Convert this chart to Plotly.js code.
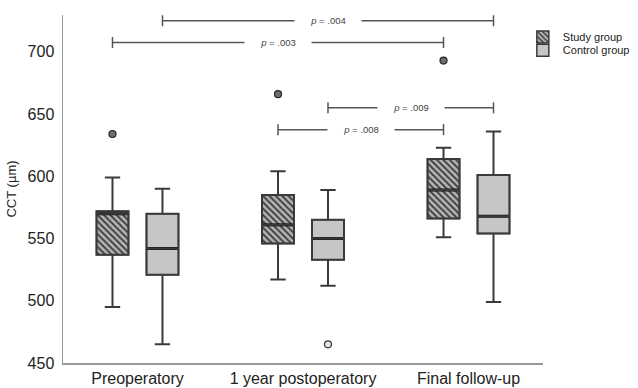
<!DOCTYPE html>
<html><head><meta charset="utf-8">
<script src="https://cdn.plot.ly/plotly-3.0.1.min.js"></script>
<style>html,body{margin:0;padding:0;background:#fff}</style>
</head><body><div id="chart" style="width:638px;height:388px"></div>
<script>
// ---- data ----
const categories = ['Preoperatory', '1 year postoperatory', 'Final follow-up'];

const studyLowerFence = [495, 517, 551];
const studyQ1         = [537, 546, 566];
const studyMedian     = [570, 561, 589];
const studyQ3         = [572, 585, 614];
const studyUpperFence = [599, 604, 623];
const studyOutliers   = [[634], [666], [693]];

const controlLowerFence = [465, 512, 499];
const controlQ1         = [521, 533, 554];
const controlMedian     = [542, 550, 568];
const controlQ3         = [570, 565, 601];
const controlUpperFence = [590, 589, 636];
const controlOutliers   = [[], [465], []];

// pairwise comparisons (category index, group) -> (category index, group)
const compCatA   = [0, 0, 1, 1];
const compGroupA = ['control', 'study', 'control', 'study'];
const compCatB   = [2, 2, 2, 2];
const compGroupB = ['control', 'study', 'control', 'study'];
const compP      = ['.004', '.003', '.009', '.008'];
const compLevel  = [725, 707.5, 655, 637.5];

// ---- layout params ----
const BOXGAP = 0.396, BOXGROUPGAP = 0.36;
const slotOff = 0.25 * (1 - BOXGAP);                       // centre offset of each group's box
const halfW = 0.5 * (1 - BOXGAP) * (1 - BOXGROUPGAP) / 2;  // half box width
const groupOffset = g => (g === 'study' ? -slotOff : slotOff);
const MED_T = 2.4; // thickness of the median stroke, in data units

// sample arrays for the box traces: the outliers, plus the median when a box has none
const samplePts = (outs, med) => outs.map((o, i) => (o.length ? o : [med[i]]));

const FONT = '"Liberation Sans", Arial, sans-serif';
const DARK = '#3a3a3a';

const studyFill = {
  type: 'bar', name: 'Study group', x: categories,
  base: studyQ1, y: studyQ3.map((v, i) => v - studyQ1[i]),
  offset: -slotOff - halfW, width: 2 * halfW,
  marker: { color: '#b4b4b4', line: { color: DARK, width: 1.5 },
            pattern: { shape: '\\', fgcolor: '#3c3c3c', bgcolor: '#b4b4b4', size: 4.5, solidity: 0.4 } },
  showlegend: true, legend: 'legend', hoverinfo: 'skip'
};
const controlFill = {
  type: 'bar', name: 'Control group', x: categories,
  base: controlQ1, y: controlQ3.map((v, i) => v - controlQ1[i]),
  offset: slotOff - halfW, width: 2 * halfW,
  marker: { color: '#c6c6c6', line: { color: DARK, width: 1.5 } },
  showlegend: true, legend: 'legend2', hoverinfo: 'skip'
};
const medianBar = (med, sign) => ({
  type: 'bar', x: categories, base: med.map(v => v - MED_T / 2), y: med.map(() => MED_T),
  offset: sign * slotOff - halfW, width: 2 * halfW,
  marker: { color: '#111', line: { width: 0 } }, showlegend: false, hoverinfo: 'skip'
});

const studyBox = {
  type: 'box', name: 'Study group', offsetgroup: 'study', alignmentgroup: 'boxes',
  x: categories, y: samplePts(studyOutliers, studyMedian),
  q1: studyQ1, median: studyMedian, q3: studyQ3,
  lowerfence: studyLowerFence, upperfence: studyUpperFence,
  boxpoints: 'outliers', jitter: 0, pointpos: 0, whiskerwidth: 0.48,
  fillcolor: 'rgba(0,0,0,0)', line: { color: DARK, width: 2 }, showlegend: false,
  marker: { symbol: 'circle', size: 7, color: '#6e6e6e', line: { color: '#222', width: 1.2 } }
};
const controlBox = {
  type: 'box', name: 'Control group', offsetgroup: 'control', alignmentgroup: 'boxes',
  x: categories, y: samplePts(controlOutliers, controlMedian),
  q1: controlQ1, median: controlMedian, q3: controlQ3,
  lowerfence: controlLowerFence, upperfence: controlUpperFence,
  boxpoints: 'outliers', jitter: 0, pointpos: 0, whiskerwidth: 0.48,
  fillcolor: 'rgba(0,0,0,0)', line: { color: DARK, width: 2 }, showlegend: false,
  marker: { symbol: 'circle', size: 7, color: '#e6e6e6', line: { color: '#333', width: 1.2 } }
};

const shapes = [];
const annotations = [];
for (let i = 0; i < compP.length; i++) {
  const xa = compCatA[i] + groupOffset(compGroupA[i]);
  const xb = compCatB[i] + groupOffset(compGroupB[i]);
  const ln = { color: '#555', width: 1.5 };
  shapes.push({ type: 'line', xref: 'x', yref: 'y', x0: xa, x1: xb, y0: compLevel[i], y1: compLevel[i], line: ln });
  [xa, xb].forEach(xx => shapes.push({ type: 'line', xref: 'x', yref: 'y', x0: xx, x1: xx,
    ysizemode: 'pixel', yanchor: compLevel[i], y0: -5.5, y1: 5.5, line: ln }));
  annotations.push({ xref: 'x', yref: 'y', x: (xa + xb) / 2, y: compLevel[i], showarrow: false,
    text: '<i>p</i> = ' + compP[i], bgcolor: '#fff', width: 64, height: 11,
    font: { family: FONT, size: 9.5, color: '#444' } });
}

const layout = {
  width: 638, height: 388,
  margin: { l: 63, r: 95, t: 15, b: 25, autoexpand: false },
  paper_bgcolor: '#fff', plot_bgcolor: '#fff',
  font: { family: FONT, color: '#222' },
  boxmode: 'group', boxgap: BOXGAP, boxgroupgap: BOXGROUPGAP,
  xaxis: { type: 'category', range: [-0.45, 2.45], showgrid: false, zeroline: false,
    showline: true, linecolor: '#9a9a9a', linewidth: 1.5, ticks: '',
    tickfont: { size: 16, color: '#222' }, fixedrange: true },
  yaxis: { range: [450, 729.6], tick0: 450, dtick: 50, showgrid: false, zeroline: false,
    showline: true, linecolor: '#9a9a9a', linewidth: 1.5, ticks: '', ticklabelstandoff: 4,
    tickfont: { size: 16, color: '#222' },
    title: { text: 'CCT (µm)', font: { size: 13, color: '#222' }, standoff: 8 } },
  legend: { x: 0.958, xanchor: 'left', y: 0.937, yanchor: 'middle', bgcolor: 'rgba(0,0,0,0)',
    font: { size: 11, color: '#222' }, itemwidth: 30 },
  legend2: { x: 0.958, xanchor: 'left', y: 0.899, yanchor: 'middle', bgcolor: 'rgba(0,0,0,0)',
    font: { size: 11, color: '#222' }, itemwidth: 30 },
  shapes: shapes, annotations: annotations,
  showlegend: true
};

Plotly.newPlot('chart',
  [studyFill, controlFill, medianBar(studyMedian, -1), medianBar(controlMedian, 1), studyBox, controlBox],
  layout, { displayModeBar: false, staticPlot: true });
</script></body></html>
